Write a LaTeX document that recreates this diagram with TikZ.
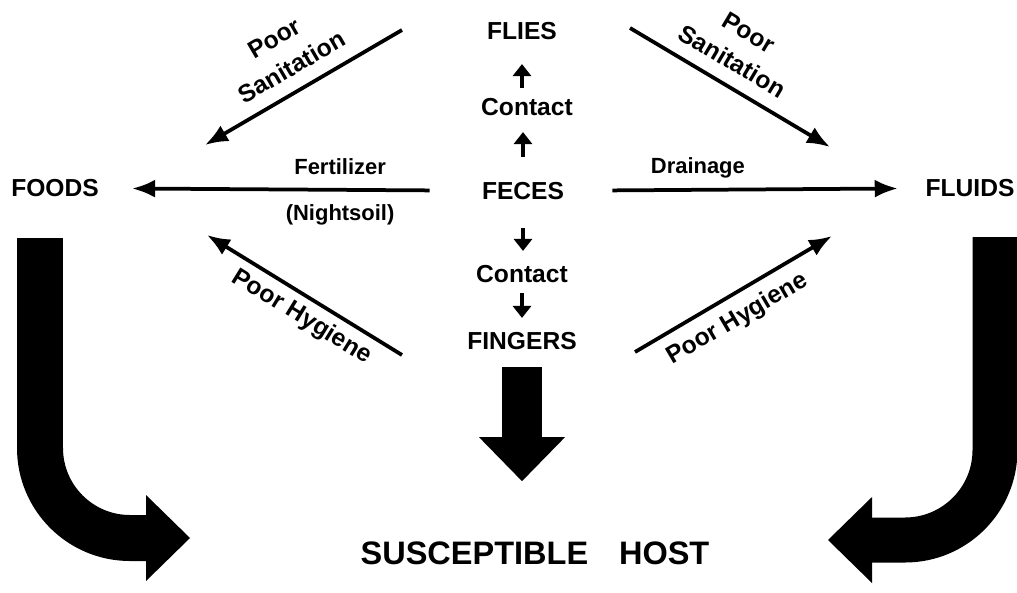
\documentclass[tikz,border=0pt]{standalone}
\usepackage{fontspec}
\setmainfont{Liberation Sans}
\usetikzlibrary{arrows.meta}

\begin{document}
\begin{tikzpicture}[x=0.02cm,y=-0.02cm,
    lbl/.style={font=\fontsize{14}{17}\selectfont\bfseries,inner sep=0pt},
    sub/.style={font=\fontsize{12.5}{15}\selectfont\bfseries,inner sep=7.5pt},
    slopelbl/.style={font=\fontsize{14}{19}\selectfont\bfseries,sloped,align=center,inner sep=7.5pt},
    flowarrow/.style={line width=0.075cm,-{Latex[length=0.46cm,width=0.36cm]}},
    flowback/.style={line width=0.075cm,{Latex[length=0.46cm,width=0.36cm]}-},
    steparrow/.style={line width=0.08cm,-{Triangle[length=0.24cm,width=0.36cm]}},
    bigarrow/.style={line width=#1,-{Triangle[length=0.88cm,width=1.72cm,line width=0pt]}}]
        \useasboundingbox (0,0) rectangle (1017,592);

        % central column
        \node[lbl] (flies) at (522,31) {FLIES};
        \node[lbl] (contactup) at (527,107) {Contact};
        \node[lbl] (feces) at (523,191) {FECES};
        \node[lbl] (contactdown) at (522,274) {Contact};
        \node[lbl] (fingers) at (522,341) {FINGERS};
        \node[lbl] (foods) at (55,188) {FOODS};
        \node[lbl] (fluids) at (970,188) {FLUIDS};
        \node[font=\fontsize{18.5}{20}\selectfont\bfseries,inner sep=0pt] (host) at (535,553) {SUSCEPTIBLE\hspace{0.95em}HOST};

        \draw[steparrow,shorten <=0.2cm,shorten >=0.48cm] (flies |- contactup.north)--(flies.south);
        \draw[steparrow,shorten <=0.5cm,shorten >=0.32cm] (feces.north)--(feces |- contactup.south);
        \draw[steparrow,shorten <=0.56cm,shorten >=0.28cm] (feces.south)--(feces |- contactdown.north);
        \draw[steparrow,shorten <=0.2cm,shorten >=0.28cm] (contactdown.south)--(contactdown |- fingers.north);

        % feces to foods and fluids
        \draw[flowarrow,shorten <=1.04cm,shorten >=0.66cm] (feces)--node[sub,pos=0.37,above]{Fertilizer}node[sub,pos=0.37,below]{(Nightsoil)}(foods);
        \draw[flowarrow,shorten <=0.96cm,shorten >=0.55cm] (feces)--node[sub,pos=0.37,above,inner sep=5.5pt]{Drainage}(fluids);

        % diagonal arrows
        \coordinate (sanLtail) at (402,30);
        \coordinate (sanLhead) at (205,145);
        \coordinate (sanRtail) at (630,28);
        \coordinate (sanRhead) at (830,147);
        \coordinate (hygLtail) at (402,355);
        \coordinate (hygLhead) at (207,235);
        \coordinate (hygRtail) at (635,352);
        \coordinate (hygRhead) at (832,236);
        \draw[flowback] (sanLhead)--node[slopelbl,above]{Poor\hspace{0.8em}\\Sanitation}(sanLtail);
        \draw[flowarrow] (sanRtail)--node[slopelbl,above,pos=0.45]{Poor\\Sanitation}(sanRhead);
        \draw[flowback] (hygLhead)--node[slopelbl,below,pos=0.54,inner sep=4pt]{Poor Hygiene}(hygLtail);
        \draw[flowarrow] (hygRtail)--node[slopelbl,below,pos=0.46,inner sep=6pt]{Poor Hygiene}(hygRhead);

        % thick arrows to the host
        \coordinate (foodsbar) at (40,238);
        \coordinate (foodsin) at (190,538);
        \coordinate (fluidsbar) at (995,237);
        \coordinate (fluidsin) at (828,540);
        \draw[bigarrow=0.92cm,rounded corners=1.8cm] (foodsbar) |- (foodsin);
        \draw[bigarrow=0.9cm,rounded corners=1.8cm] (fluidsbar) |- (fluidsin);
        \draw[bigarrow=0.8cm,shorten <=0.34cm,shorten >=1.2cm] (fingers.south)--(fingers |- host.north);
\end{tikzpicture}
\end{document}
